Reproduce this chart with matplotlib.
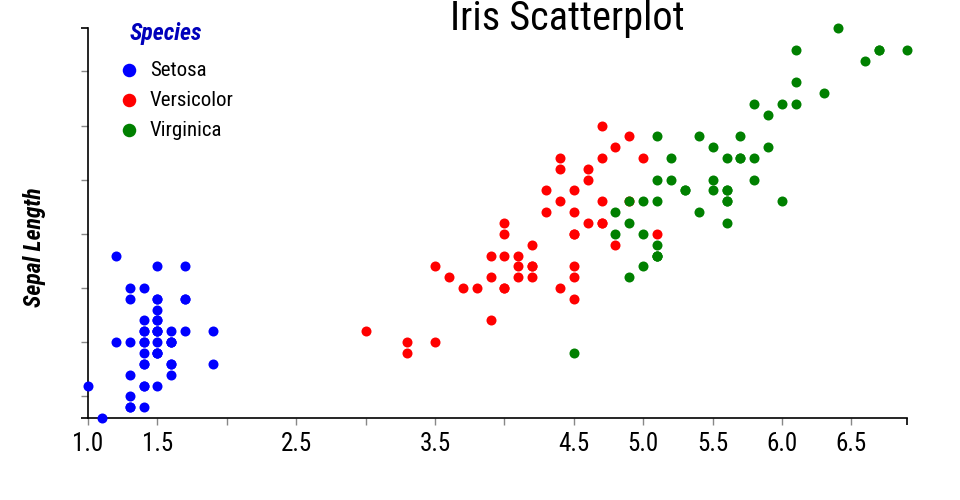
import matplotlib.pyplot as plt
from matplotlib import font_manager

names = {f.name for f in font_manager.fontManager.ttflist}
candidates = ['Roboto Condensed', 'Liberation Sans Narrow', 'Open Sans Condensed', 'Noto Sans Condensed', 'Roboto']
fam = [n for n in candidates if n in names][:1] + ['DejaVu Sans']
plt.rcParams['font.family'] = fam

# iris: petal length (x) / sepal length (y)
setosa_petal = [1.4, 1.4, 1.3, 1.5, 1.4, 1.7, 1.4, 1.5, 1.4, 1.5, 1.5, 1.6, 1.4, 1.1, 1.2, 1.5, 1.3, 1.4, 1.7, 1.5,
                1.7, 1.5, 1.0, 1.7, 1.9, 1.6, 1.6, 1.5, 1.4, 1.6, 1.6, 1.5, 1.5, 1.4, 1.5, 1.2, 1.3, 1.5, 1.3, 1.5,
                1.3, 1.3, 1.3, 1.6, 1.9, 1.4, 1.6, 1.4, 1.5, 1.4]
setosa_sepal = [5.1, 4.9, 4.7, 4.6, 5.0, 5.4, 4.6, 5.0, 4.4, 4.9, 5.4, 4.8, 4.8, 4.3, 5.8, 5.7, 5.4, 5.1, 5.7, 5.1,
                5.4, 5.1, 4.6, 5.1, 4.8, 5.0, 5.0, 5.2, 5.2, 4.7, 4.8, 5.4, 5.2, 5.5, 4.9, 5.0, 5.5, 4.9, 4.4, 5.1,
                5.0, 4.5, 4.4, 5.0, 5.1, 4.8, 5.1, 4.6, 5.3, 5.0]
versicolor_petal = [4.7, 4.5, 4.9, 4.0, 4.6, 4.5, 4.7, 3.3, 4.6, 3.9, 3.5, 4.2, 4.0, 4.7, 3.6, 4.4, 4.5, 4.1, 4.5, 3.9,
                    4.8, 4.0, 4.9, 4.7, 4.3, 4.4, 4.8, 5.0, 4.5, 3.5, 3.8, 3.7, 3.9, 5.1, 4.5, 4.5, 4.7, 4.4, 4.1, 4.0,
                    4.4, 4.6, 4.0, 3.3, 4.2, 4.2, 4.2, 4.3, 3.0, 4.1]
versicolor_sepal = [7.0, 6.4, 6.9, 5.5, 6.5, 5.7, 6.3, 4.9, 6.6, 5.2, 5.0, 5.9, 6.0, 6.1, 5.6, 6.7, 5.6, 5.8, 6.2, 5.6,
                    5.9, 6.1, 6.3, 6.1, 6.4, 6.6, 6.8, 6.7, 6.0, 5.7, 5.5, 5.5, 5.8, 6.0, 5.4, 6.0, 6.7, 6.3, 5.6, 5.5,
                    5.5, 6.1, 5.8, 5.0, 5.6, 5.7, 5.7, 6.2, 5.1, 5.7]
virginica_petal = [6.0, 5.1, 5.9, 5.6, 5.8, 6.6, 4.5, 6.3, 5.8, 6.1, 5.1, 5.3, 5.5, 5.0, 5.1, 5.3, 5.5, 6.7, 6.9, 5.0,
                   5.7, 4.9, 6.7, 4.9, 5.7, 6.0, 4.8, 4.9, 5.6, 5.8, 6.1, 6.4, 5.6, 5.1, 5.6, 6.1, 5.6, 5.5, 4.8, 5.4,
                   5.6, 5.1, 5.1, 5.9, 5.7, 5.2, 5.0, 5.2, 5.4, 5.1]
virginica_sepal = [6.3, 5.8, 7.1, 6.3, 6.5, 7.6, 4.9, 7.3, 6.7, 7.2, 6.5, 6.4, 6.8, 5.7, 5.8, 6.4, 6.5, 7.7, 7.7, 6.0,
                   6.9, 5.6, 7.7, 6.3, 6.7, 7.2, 6.2, 6.1, 6.4, 7.2, 7.4, 7.9, 6.4, 6.3, 6.1, 7.7, 6.3, 6.4, 6.0, 6.9,
                   6.7, 6.9, 5.8, 6.8, 6.7, 6.7, 6.3, 6.5, 6.2, 5.9]

species = ['Setosa', 'Versicolor', 'Virginica']
colors = ['blue', 'red', 'green']
xticks = [1.0, 1.5, 2.0, 2.5, 3.0, 3.5, 4.0, 4.5, 5.0, 5.5, 6.0, 6.5]
xticklabels = ['1.0', '1.5', '', '2.5', '', '3.5', '', '4.5', '5.0', '5.5', '6.0', '6.5']
yticks = [4.5, 5.0, 5.5, 6.0, 6.5, 7.0, 7.5]

fig = plt.figure(figsize=(9.6, 5), dpi=100)
ax = fig.add_axes([88 / 960, 1 - 418 / 500, (907 - 88) / 960, (418 - 28) / 500])

data = [(setosa_petal, setosa_sepal), (versicolor_petal, versicolor_sepal), (virginica_petal, virginica_sepal)]
for (px, py), name, c in zip(data, species, colors):
    ax.scatter(px, py, s=52, color=c, linewidths=0, label=name, clip_on=False, zorder=3)

ax.set_xlim(1.0, 6.9)
ax.set_ylim(4.3, 7.9)
for s in ['top', 'right']:
    ax.spines[s].set_visible(False)
for s in ['left', 'bottom']:
    ax.spines[s].set_linewidth(1.2)

ax.set_xticks(xticks)
ax.set_xticklabels(xticklabels)
ax.set_yticks(yticks)
ax.set_yticklabels([])
ax.set_xticks([1.0, 6.9], minor=True)
ax.set_yticks([4.3, 7.9], minor=True)
ax.tick_params(which='major', length=5, width=1, color='#888888', labelsize=18, pad=5)
ax.tick_params(which='minor', length=5, width=1.2, color='black')

fig.text(35 / 960, 1 - 247 / 500, 'Sepal Length', fontsize=17, fontweight='bold', style='italic',
         rotation=90, ha='center', va='center')

fig.text(567 / 960, 1 - 18 / 500, 'Iris Scatterplot', fontsize=29, ha='center', va='center')

fig.text(166 / 960, 1 - 33 / 500, 'Species', fontsize=17, fontweight='bold', style='italic',
         color='#0000bb', ha='center', va='center')
ax.legend(loc='upper left', bbox_to_anchor=(0.022, 0.938), frameon=False, fontsize=15,
          markerscale=1.35, handlelength=1.4, handletextpad=0.3, labelspacing=0.53, borderaxespad=0)

fig.savefig('out.png', dpi=100)
